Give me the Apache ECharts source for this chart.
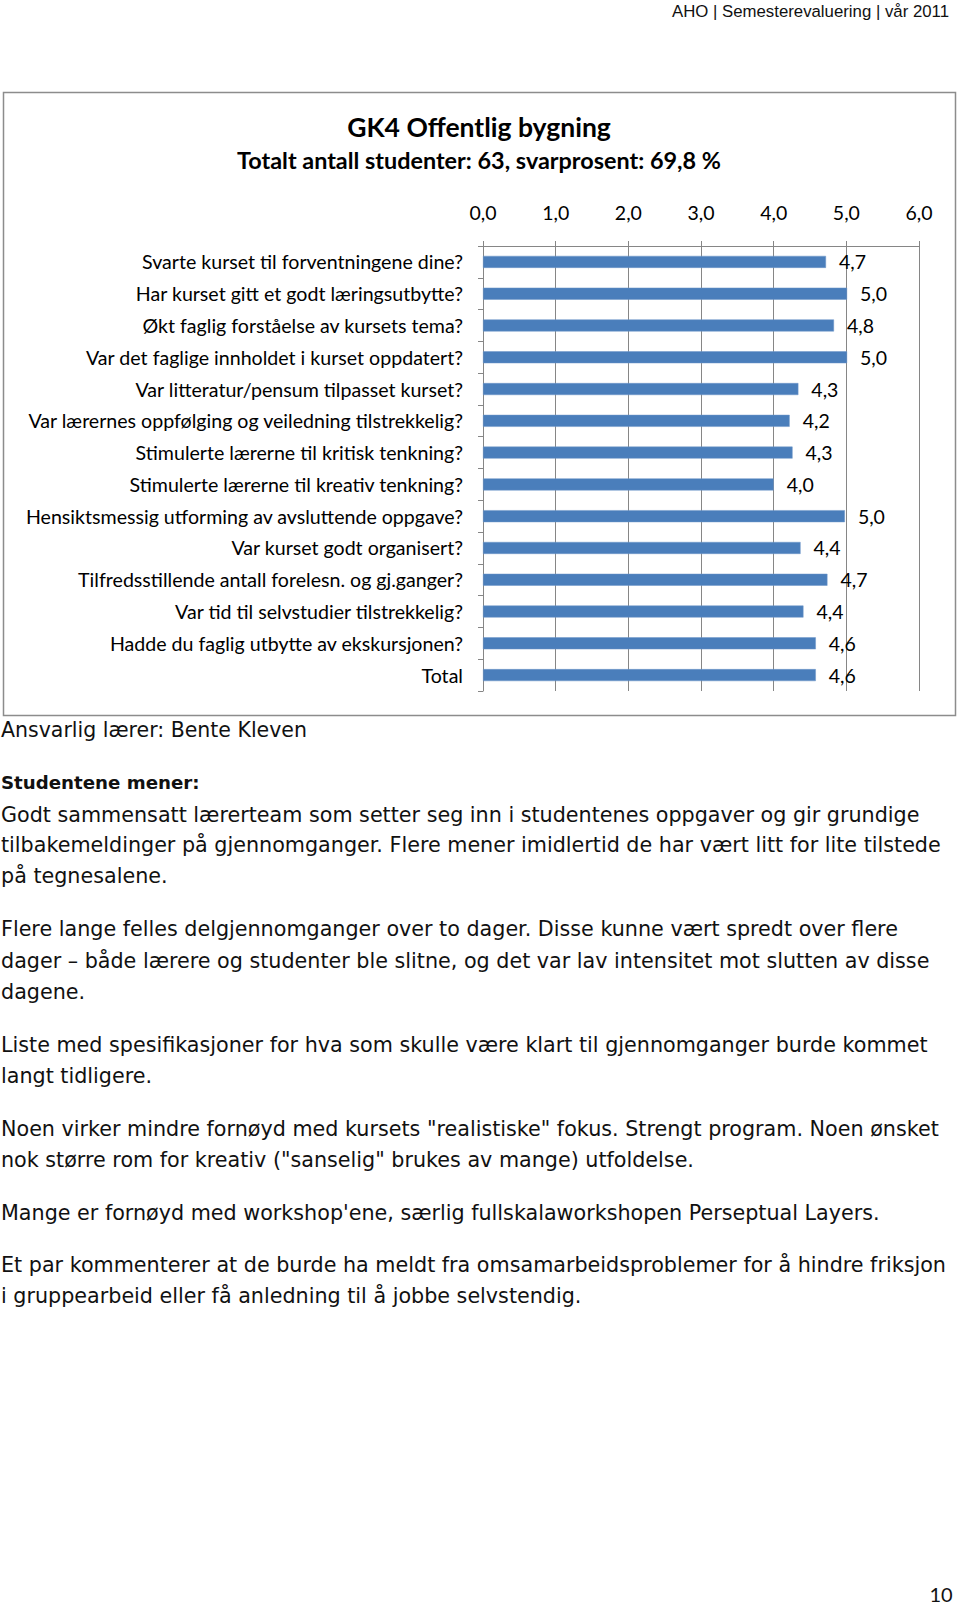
<!DOCTYPE html>
<html>
<head>
<meta charset="utf-8">
<script src="https://cdn.jsdelivr.net/npm/echarts@6/dist/echarts.min.js"></script>
<style>
html,body{margin:0;padding:0;background:#fff;}
#chart{width:960px;height:1605px;}
</style>
</head>
<body>
<div id="chart"></div>
<script>
// ---- data ----
const categories = [
  "Svarte kurset til forventningene dine?",
  "Har kurset gitt et godt læringsutbytte?",
  "Økt faglig forståelse av kursets tema?",
  "Var det faglige innholdet i kurset oppdatert?",
  "Var litteratur/pensum tilpasset kurset?",
  "Var lærernes oppfølging og veiledning tilstrekkelig?",
  "Stimulerte lærerne til kritisk tenkning?",
  "Stimulerte lærerne til kreativ tenkning?",
  "Hensiktsmessig utforming av avsluttende oppgave?",
  "Var kurset godt organisert?",
  "Tilfredsstillende antall forelesn. og gj.ganger?",
  "Var tid til selvstudier tilstrekkelig?",
  "Hadde du faglig utbytte av ekskursjonen?",
  "Total"
];
const scores = [4.72, 5.01, 4.83, 5.01, 4.34, 4.22, 4.26, 4.0, 4.98, 4.37, 4.74, 4.41, 4.58, 4.58];
const axisTicks = [0, 1, 2, 3, 4, 5, 6];

const headerText = "AHO | Semesterevaluering | vår 2011";
const chartTitle = "GK4 Offentlig bygning";
const chartSubtitle = "Totalt antall studenter: 63, svarprosent: 69,8 %";
const teacherLine = "Ansvarlig lærer: Bente Kleven";
const commentsHeading = "Studentene mener:";
const commentLines = [
  "Godt sammensatt lærerteam som setter seg inn i studentenes oppgaver og gir grundige",
  "tilbakemeldinger på gjennomganger. Flere mener imidlertid de har vært litt for lite tilstede",
  "på tegnesalene.",
  "Flere lange felles delgjennomganger over to dager. Disse kunne vært spredt over flere",
  "dager – både lærere og studenter ble slitne, og det var lav intensitet mot slutten av disse",
  "dagene.",
  "Liste med spesifikasjoner for hva som skulle være klart til gjennomganger burde kommet",
  "langt tidligere.",
  "Noen virker mindre fornøyd med kursets \"realistiske\" fokus. Strengt program. Noen ønsket",
  "nok større rom for kreativ (\"sanselig\" brukes av mange) utfoldelse.",
  "Mange er fornøyd med workshop'ene, særlig fullskalaworkshopen Perseptual Layers.",
  "Et par kommenterer at de burde ha meldt fra omsamarbeidsproblemer for å hindre friksjon",
  "i gruppearbeid eller få anledning til å jobbe selvstendig."
];
const pageNumber = "10";

// ---- layout ----
const commentY = [815, 845, 876, 929, 961, 992, 1045, 1076, 1129, 1160, 1213, 1265, 1296];
const bodyFont = '20.7px "DejaVu Sans"';
const fmt = v => v.toFixed(1).replace('.', ',');

const graphics = [
  {type:'rect', shape:{x:3.5, y:92.5, width:952, height:623}, style:{fill:'none', stroke:'#8c8c8c', lineWidth:1.5}, z:-1},
  {type:'text', style:{text:headerText, x:949, y:11, font:'16.8px "Liberation Sans"', fill:'#111', textAlign:'right', textVerticalAlign:'middle'}},
  {type:'text', style:{text:chartTitle, x:479, y:127, font:'bold 26.5px Lato', fill:'#000', textAlign:'center', textVerticalAlign:'middle'}},
  {type:'text', style:{text:chartSubtitle, x:479, y:160, font:'bold 23.4px Lato', fill:'#000', textAlign:'center', textVerticalAlign:'middle'}},
  {type:'text', style:{text:teacherLine, x:1, y:730, font:'20.5px "DejaVu Sans"', fill:'#111', textAlign:'left', textVerticalAlign:'middle'}},
  {type:'text', style:{text:commentsHeading, x:1, y:782, font:'bold 18.2px "DejaVu Sans"', fill:'#111', textAlign:'left', textVerticalAlign:'middle'}},
  {type:'text', style:{text:pageNumber, x:941, y:1594, font:'20px Lato', fill:'#111', textAlign:'center', textVerticalAlign:'middle'}}
];
commentLines.forEach((t, i) => {
  graphics.push({type:'text', style:{text:t, x:1, y:commentY[i], font:bodyFont, fill:'#111', textAlign:'left', textVerticalAlign:'middle'}});
});

const chart = echarts.init(document.getElementById('chart'), null, {renderer:'svg'});
chart.setOption({
  animation:false,
  backgroundColor:'#fff',
  grid:{left:483, right:41, top:246, height:445, containLabel:false},
  xAxis:{
    type:'value', position:'top', min:axisTicks[0], max:axisTicks[axisTicks.length-1], interval:1,
    axisLine:{show:true, lineStyle:{color:'#868686', width:1}},
    axisTick:{show:true, length:5, inside:false, lineStyle:{color:'#868686'}},
    splitLine:{show:true, lineStyle:{color:'#868686', width:1}},
    axisLabel:{margin:24, formatter:v => fmt(v), color:'#000', fontFamily:'Lato', fontSize:19.5}
  },
  yAxis:{
    type:'category', inverse:true, data:categories,
    axisLine:{show:true, lineStyle:{color:'#868686', width:1}},
    axisTick:{show:true, length:5, lineStyle:{color:'#868686'}},
    splitLine:{show:false},
    axisLabel:{margin:20, color:'#000', fontFamily:'Lato', fontSize:19.6, align:'right'}
  },
  series:[{
    type:'bar', data:scores, barWidth:12,
    itemStyle:{color:'#4a7ebb', borderColor:'#6f97c9', borderWidth:0.5},
    label:{show:true, position:'right', distance:13, formatter:p => fmt(p.value), color:'#000', fontFamily:'Lato', fontSize:19.5}
  }],
  graphic:graphics
});
</script>
</body>
</html>
